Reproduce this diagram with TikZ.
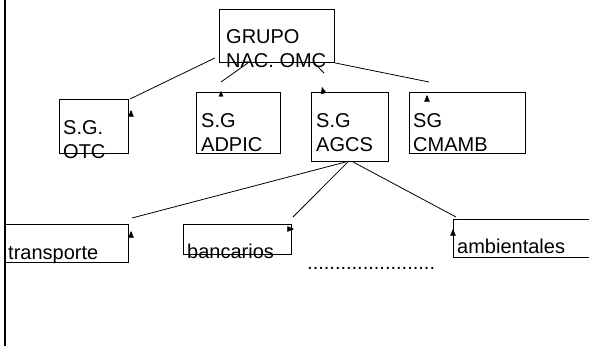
\documentclass[tikz,border=0pt]{standalone}
\usepackage{fontspec}
\setmainfont{Liberation Sans}
\usetikzlibrary{arrows,calc}
\tikzset{
  caja/.style={draw,line width=0.9pt,inner sep=0pt,anchor=north west},
  rotulo/.style={anchor=base west,inner sep=0pt,align=left,font=\fontsize{20}{24}\selectfont},
  enlace/.style={line width=0.8pt},
  punta/.style={->,line width=0.5pt}
}
\begin{document}
\begin{tikzpicture}[line cap=butt,line join=miter,>=triangle 45,x=1pt,y=-1pt]
\useasboundingbox (0,0) rectangle (589,346);
\draw [line width=2.5pt] (5,0)-- (5,346);
% cajas
\node[caja,minimum width=115pt,minimum height=53pt] (grupo) at (219,9) {};
\node[caja,minimum width=69pt,minimum height=54pt] (otc) at (59,99) {};
\node[caja,minimum width=84pt,minimum height=61pt] (adpic) at (196,92) {};
\node[caja,minimum width=77pt,minimum height=69pt] (agcs) at (311,92) {};
\node[caja,minimum width=116pt,minimum height=61pt] (cmamb) at (409,92) {};
\node[caja,minimum width=123pt,minimum height=38pt] (transp) at (5,224) {};
\node[caja,minimum width=108pt,minimum height=30pt] (banc) at (183,224) {};
\node[caja,minimum width=140pt,minimum height=38pt] (amb) at (453,219) {};
% textos (base = ultima linea)
\node[rotulo] at ([shift={(7,58)}]grupo.north west) {GRUPO\\NAC. OMC};
\node[rotulo] at ([shift={(4,59)}]otc.north west) {S.G.\\OTC};
\node[rotulo] at ([shift={(5,59)}]adpic.north west) {S.G\\ADPIC};
\node[rotulo] at ([shift={(5,59)}]agcs.north west) {S.G\\AGCS};
\node[rotulo] at ([shift={(4,59)}]cmamb.north west) {SG\\CMAMB};
\node[rotulo] at ([shift={(3,35)}]transp.north west) {transporte};
\node[rotulo] at ([shift={(4,34)}]banc.north west) {bancarios};
\node[rotulo] at ([shift={(4,34)}]amb.north west) {ambientales};
\node[rotulo] (puntos) at (307,269) {.......................};
% enlaces
\coordinate (e1) at (130,99);
\coordinate (e2) at (221,82);
\coordinate (e3) at (324,73);
\coordinate (e4) at (429,82);
\coordinate (e5) at (132,218);
\coordinate (e6) at (293,217);
\coordinate (e7) at (456,217);
\draw [enlace] ([shift={(-4,-5)}]grupo.south west)-- (e1);
\draw [enlace] ($(grupo.south west)!0.25!(grupo.south east)$)-- (e2);
\draw [enlace] ($(grupo.south west)!0.82!(grupo.south east)$)-- (e3);
\draw [enlace] (grupo.south east)-- (e4);
\draw [enlace] ([xshift=-4pt]agcs.south)-- (e5);
\draw [enlace] ([xshift=-2pt]agcs.south)-- (e6);
\draw [enlace] ([xshift=3pt]agcs.south)-- (e7);
% puntas
\draw [punta] ([shift={(0,5)}]131,110)-- (131,110);
\draw [punta,line width=0.2pt] ([shift={(0,1)}]221,91)-- (221,91);
\draw [punta] ([shift={(1,4)}]322,87)-- (322,87);
\draw [punta] ([shift={(0,4)}]427,95)-- (427,95);
\draw [punta] ([shift={(0,5)}]131,231)-- (131,231);
\draw [punta] ([shift={(-4,0)}]294,229)-- (294,229);
\draw [punta] ([shift={(0,6)}]453,229)-- (453,229);
\end{tikzpicture}
\end{document}
